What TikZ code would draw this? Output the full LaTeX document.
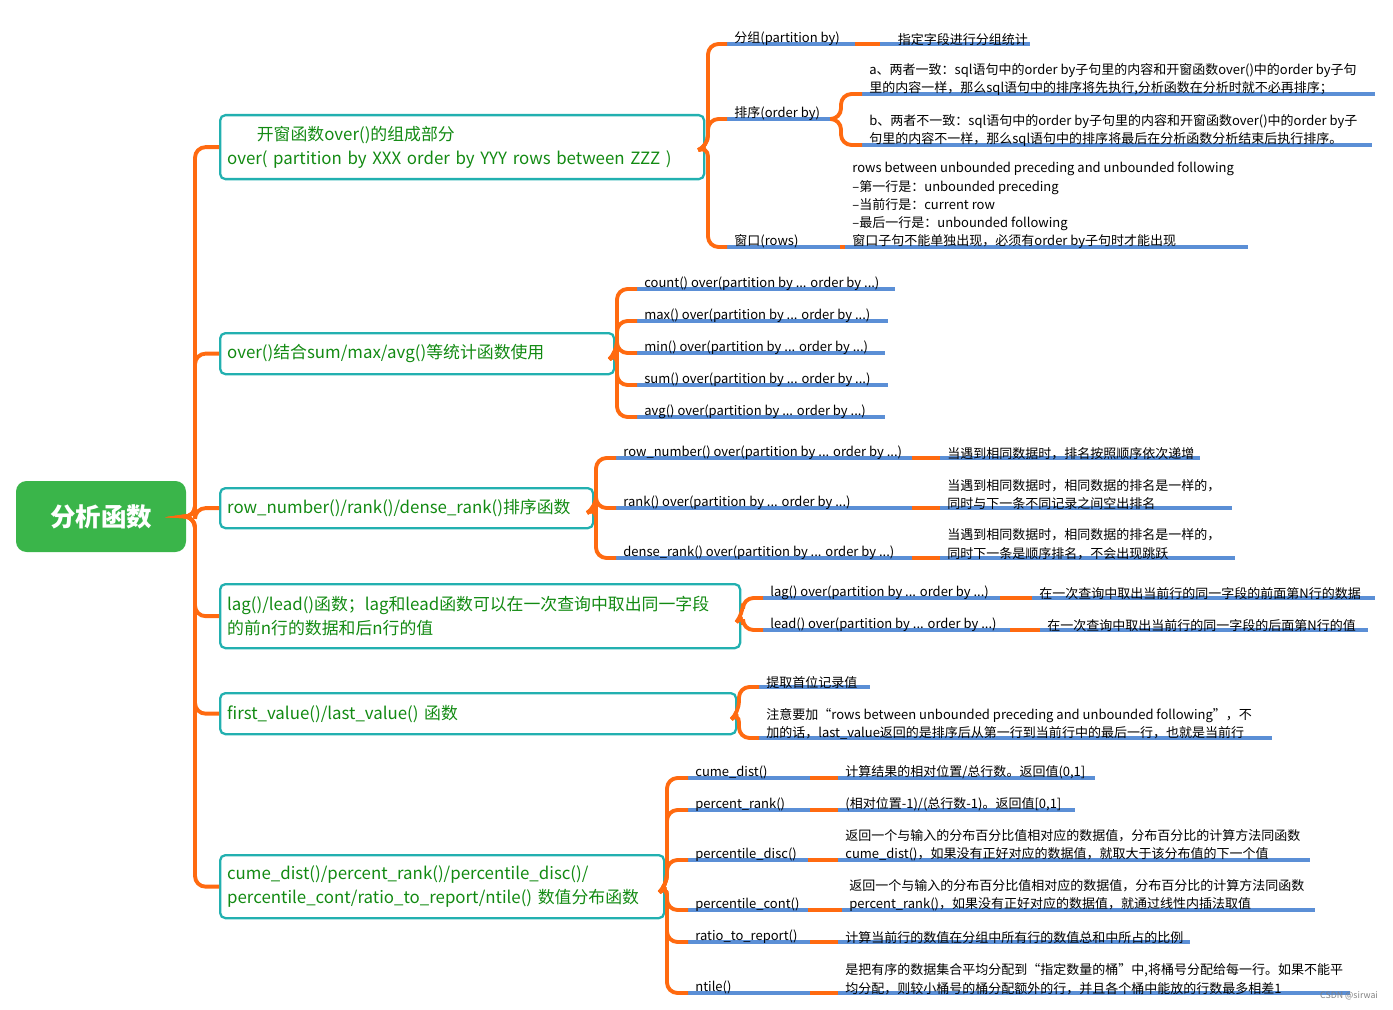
\documentclass[tikz,border=0pt]{standalone}
\usepackage{fontspec}
\setmainfont{Noto Sans CJK SC}
\definecolor{br}{HTML}{FF6A10}
\definecolor{ul}{HTML}{5B8FD6}
\definecolor{tl}{HTML}{22B0B0}
\definecolor{gt}{HTML}{128A12}
\definecolor{rg}{HTML}{3AB54A}
\tikzset{
 brl/.style={draw=br,line width=2.2pt,rounded corners=6pt},
 ull/.style={draw=ul,line width=2.2pt},
 boxn/.style={draw=tl,line width=1.3pt,rounded corners=3pt,text=gt,align=left,anchor=north west,inner sep=0pt,font=\fontsize{9.6}{13.6}\selectfont},
 lt/.style={anchor=south west,inner sep=1pt,align=left,font=\fontsize{7.4}{10.3}\selectfont},
}
\newcommand{\leaf}[5]{\coordinate (#1a) at (#2,#4); \coordinate (#1b) at (#3,#4);
 \draw[ull] (#1a) -- (#1b); \node[lt] (#1) at ([xshift=3,yshift=-2]#1a) {#5};}
\begin{document}
\begin{tikzpicture}[x=0.02cm,y=-0.02cm]
\useasboundingbox (0,0) rectangle (1393,1010);
% root
\node[fill=rg,rounded corners=6pt,minimum width=170*0.02cm,minimum height=71*0.02cm,text=white,font=\fontsize{14.5}{16}\selectfont\bfseries,inner sep=0pt] (root) at (101,516.5) {分析函数};
% boxes
\node[boxn,minimum width=484*0.02cm,minimum height=64*0.02cm,text width=470*0.02cm] (b1) at (219,114) {\hspace*{13\pgflinewidth}\kern0pt 开窗函数over()的组成部分\\ over( partition by XXX order by YYY rows between ZZZ )};
\node[boxn,minimum width=394*0.02cm,minimum height=41*0.02cm,text width=380*0.02cm] (b2) at (219,332) {over()结合sum/max/avg()等统计函数使用};
\node[boxn,minimum width=373*0.02cm,minimum height=40*0.02cm,text width=359*0.02cm] (b3) at (219,487) {row\_number()/rank()/dense\_rank()排序函数};
\node[boxn,minimum width=520*0.02cm,minimum height=64*0.02cm,text width=506*0.02cm] (b4) at (219,583) {lag()/lead()函数；lag和lead函数可以在一次查询中取出同一字段\\的前n行的数据和后n行的值};
\node[boxn,minimum width=516*0.02cm,minimum height=41*0.02cm,text width=502*0.02cm] (b5) at (219,692) {first\_value()/last\_value() 函数};
\node[boxn,minimum width=444*0.02cm,minimum height=63*0.02cm,text width=430*0.02cm] (b6) at (219,854) {cume\_dist()/percent\_rank()/percentile\_disc()/\\percentile\_cont/ratio\_to\_report/ntile() 数值分布函数};
\foreach \b in {b1,b2,b3,b4,b5,b6}{\draw[brl] (root.east) -- (195,517) |- (\b.west);}
% box1 leaves
\leaf{p1}{727}{855}{44}{分组(partition by)}
\leaf{p2}{727}{835}{119}{排序(order by)}
\leaf{p3}{727}{840}{247}{窗口(rows)}
\foreach \p in {p1a,p2a,p3a}{\draw[brl] (b1.east) -- (708,146) |- (\p);}
\leaf{q1}{880}{1030}{44}{\hspace{6pt}指定字段进行分组统计}
\draw[brl] (p1b) -- (q1a);
\leaf{q2}{862}{1375}{94}{a、两者一致：sql语句中的order by子句里的内容和开窗函数over()中的order by子句\\里的内容一样，那么sql语句中的排序将先执行,分析函数在分析时就不必再排序；}
\leaf{q3}{862}{1372}{145}{b、两者不一致：sql语句中的order by子句里的内容和开窗函数over()中的order by子\\句里的内容不一样，那么sql语句中的排序将最后在分析函数分析结束后执行排序。}
\draw[brl] (p2b) -- (841,119) |- (q2a);
\draw[brl] (p2b) -- (841,119) |- (q3a);
\leaf{q4}{845}{1248}{247}{rows between unbounded preceding and unbounded following\\--第一行是：unbounded preceding\\--当前行是：current row\\--最后一行是：unbounded following\\窗口子句不能单独出现，必须有order by子句时才能出现}
\draw[brl] (p3b) -- (q4a);
% box2 leaves
\leaf{c1}{637}{895}{289}{count() over(partition by ... order by ...)}
\leaf{c2}{637}{888}{321}{max() over(partition by ... order by ...)}
\leaf{c3}{637}{885}{353}{min() over(partition by ... order by ...)}
\leaf{c4}{637}{888}{385}{sum() over(partition by ... order by ...)}
\leaf{c5}{637}{885}{417}{avg() over(partition by ... order by ...)}
\foreach \p in {c1a,c2a,c3a,c4a,c5a}{\draw[brl] (b2.east) -- (617,352) |- (\p);}
% box3 leaves
\leaf{r1}{616}{912}{458}{row\_number() over(partition by ... order by ...)}
\leaf{r2}{616}{912}{508}{rank() over(partition by ... order by ...)}
\leaf{r3}{616}{912}{558}{dense\_rank() over(partition by ... order by ...)}
\foreach \p in {r1a,r2a,r3a}{\draw[brl] (b3.east) -- (596,507) |- (\p);}
\leaf{s1}{940}{1200}{458}{当遇到相同数据时，排名按照顺序依次递增}
\leaf{s2}{940}{1232}{508}{当遇到相同数据时，相同数据的排名是一样的，\\同时与下一条不同记录之间空出排名}
\leaf{s3}{940}{1235}{558}{当遇到相同数据时，相同数据的排名是一样的，\\同时下一条是顺序排名，不会出现跳跃}
\draw[brl] (r1b) -- (s1a); \draw[brl] (r2b) -- (s2a); \draw[brl] (r3b) -- (s3a);
% box4 leaves
\leaf{l1}{763}{1000}{598}{lag() over(partition by ... order by ...)}
\leaf{l2}{763}{1010}{630}{lead() over(partition by ... order by ...)}
\foreach \p in {l1a,l2a}{\draw[brl] (b4.east) -- (743,614) |- (\p);}
\leaf{m1}{1032}{1375}{598}{在一次查询中取出当前行的同一字段的前面第N行的数据}
\leaf{m2}{1040}{1368}{630}{在一次查询中取出当前行的同一字段的后面第N行的值}
\draw[brl] (l1b) -- (m1a); \draw[brl] (l2b) -- (m2a);
% box5 leaves
\leaf{f1}{759}{870}{687}{提取首位记录值}
\leaf{f2}{759}{1272}{738}{注意要加“rows between unbounded preceding and unbounded following”，不\\加的话，last\_value返回的是排序后从第一行到当前行中的最后一行，也就是当前行}
\foreach \p in {f1a,f2a}{\draw[brl] (b5.east) -- (739,712) |- (\p);}
% box6 leaves
\leaf{d1}{688}{810}{778}{cume\_dist()}
\leaf{d2}{688}{810}{810}{percent\_rank()}
\leaf{d3}{688}{808}{860}{percentile\_disc()}
\leaf{d4}{688}{808}{910}{percentile\_cont()}
\leaf{d5}{688}{810}{942}{ratio\_to\_report()}
\leaf{d6}{688}{810}{993}{ntile()}
\foreach \p in {d1a,d2a,d3a,d4a,d5a,d6a}{\draw[brl] (b6.east) -- (667,885) |- (\p);}
\leaf{e1}{838}{1095}{778}{计算结果的相对位置/总行数。返回值(0,1]}
\leaf{e2}{838}{1075}{810}{(相对位置-1)/(总行数-1)。返回值[0,1]}
\leaf{e3}{838}{1310}{860}{返回一个与输入的分布百分比值相对应的数据值，分布百分比的计算方法同函数\\cume\_dist()，如果没有正好对应的数据值，就取大于该分布值的下一个值}
\leaf{e4}{842}{1315}{910}{返回一个与输入的分布百分比值相对应的数据值，分布百分比的计算方法同函数\\percent\_rank()，如果没有正好对应的数据值，就通过线性内插法取值}
\leaf{e5}{838}{1190}{942}{计算当前行的数值在分组中所有行的数值总和中所占的比例}
\leaf{e6}{838}{1350}{993}{是把有序的数据集合平均分配到“指定数量的桶”中,将桶号分配给每一行。如果不能平\\均分配，则较小桶号的桶分配额外的行，并且各个桶中能放的行数最多相差1}
\foreach \i in {1,...,6}{\draw[brl] (d\i b) -- (e\i a);}
\node[anchor=south east,inner sep=1pt,text=gray,font=\fontsize{5}{6}\selectfont] (wm) at (1380,1002) {CSDN @sirwai};
\end{tikzpicture}
\end{document}
